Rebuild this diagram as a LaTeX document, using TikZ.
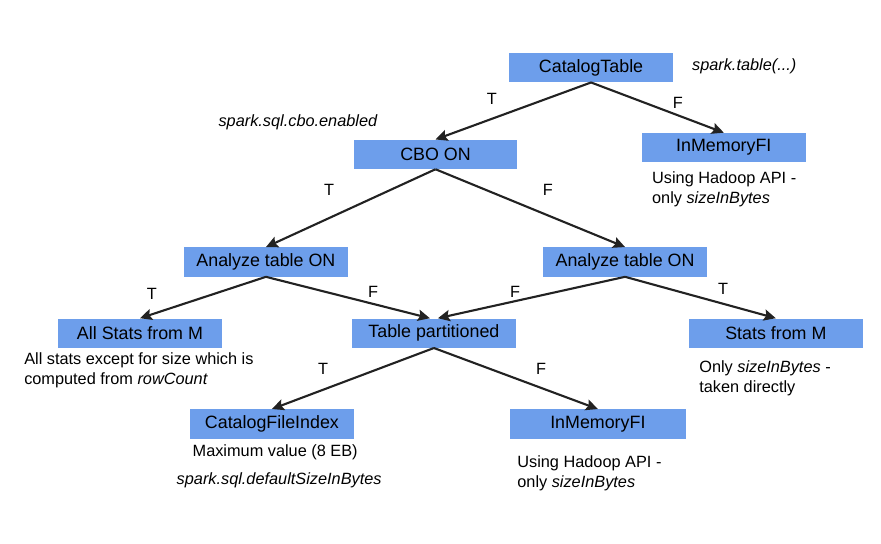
\documentclass[tikz,border=0pt]{standalone}
\usepackage{fontspec}
\setmainfont{Liberation Sans}
\usetikzlibrary{arrows.meta}
\definecolor{boxblue}{HTML}{6D9EEB}
\definecolor{edgegray}{HTML}{222222}
\newcommand{\statsfont}{\linespread{1}\fontsize{12.7}{14.5}\selectfont}
\newcommand{\statsnotefont}{\linespread{1}\fontsize{11.6}{14.2}\selectfont}
\tikzset{
    stats/chart/.style={font=\statsfont, every node/.style={align=center}},
    stats/box/.style={rectangle, fill=boxblue, minimum width=4.1cm, minimum height=0.73cm, inner sep=0pt, font=\statsfont},
    stats/widebox/.style={stats/box, minimum width=4.35cm},
    stats/note/.style={font=\statsnotefont, align=left, inner sep=0pt},
    stats/branch/.style={font=\statsnotefont, inner sep=0pt},
    stats/arrow/.style={-{Stealth[length=8.5pt,width=8pt,inset=1.5pt]}, line width=1.5pt, draw=edgegray}
}

\begin{document}
\begin{tikzpicture}[stats/chart]
    \useasboundingbox (0,0) rectangle (22.03,-13.6);
    \node[stats/box] (cat) at (14.78,-1.69) {CatalogTable};
    \node[stats/box] (cbo) at (10.89,-3.86) {CBO ON};
    \node[stats/box] (memtop) at (18.1,-3.69) {InMemoryFI};
    \node[stats/box] (anleft) at (6.65,-6.55) {Analyze table ON};
    \node[stats/box] (anright) at (15.63,-6.55) {Analyze table ON};
    \node[stats/box] (allstats) at (3.5,-8.33) {All Stats from M};
    \node[stats/box] (part) at (10.85,-8.33) {Table partitioned};
    \node[stats/widebox] (metastats) at (19.4,-8.33) {Stats from M};
    \node[stats/box] (fileindex) at (6.8,-10.6) {CatalogFileIndex};
    \node[stats/box, minimum width=4.4cm] (membot) at (14.95,-10.6) {InMemoryFI};
    \node[stats/note, anchor=west] (tablecall) at (17.3,-1.65) {\textit{spark.table(...)}};
    \node[stats/note, anchor=east] (cboflag) at (9.45,-3.05) {\textit{spark.sql.cbo.enabled}};
    \node[stats/note, anchor=west] (memtopnote) at (16.3,-4.74) {Using Hadoop API -\\only \textit{sizeInBytes}};
    \node[stats/note, anchor=west] (allnote) at (0.6,-9.25) {All stats except for size which is\\computed from \textit{rowCount}};
    \node[stats/note, anchor=west] (metanote) at (17.48,-9.45) {Only \textit{sizeInBytes} -\\taken directly};
    \node[stats/note] (maxnote) at (6.88,-11.32) {Maximum value (8 EB)};
    \node[stats/note] (defaultnote) at (6.98,-12.02) {\textit{spark.sql.defaultSizeInBytes}};
    \node[stats/note, anchor=west] (membotnote) at (12.93,-11.83) {Using Hadoop API -\\only \textit{sizeInBytes}};
    \foreach \source/\target in {cat/cbo,cat/memtop,cbo/anleft,cbo/anright,anleft/allstats,anright/metastats,part/fileindex,part/membot}
        \draw[stats/arrow] (\source.south) -- (\target.north);
    \draw[stats/arrow] (anleft.south) -- ([xshift=-0.1cm]part.north);
    \draw[stats/arrow] (anright.south) -- ([xshift=0.1cm]part.north);
    \foreach \name/\where/\answer in {cattrue/{12.3,-2.48}/T, catfalse/{16.95,-2.58}/F, cbotrue/{8.23,-4.75}/T, cbofalse/{13.7,-4.75}/F, lefttrue/{3.8,-7.35}/T, leftfalse/{9.33,-7.3}/F, rightfalse/{12.88,-7.3}/F, righttrue/{18.08,-7.23}/T, parttrue/{8.08,-9.23}/T, partfalse/{13.53,-9.23}/F}
        \node[stats/branch] (\name) at (\where) {\answer};
\end{tikzpicture}
\end{document}
